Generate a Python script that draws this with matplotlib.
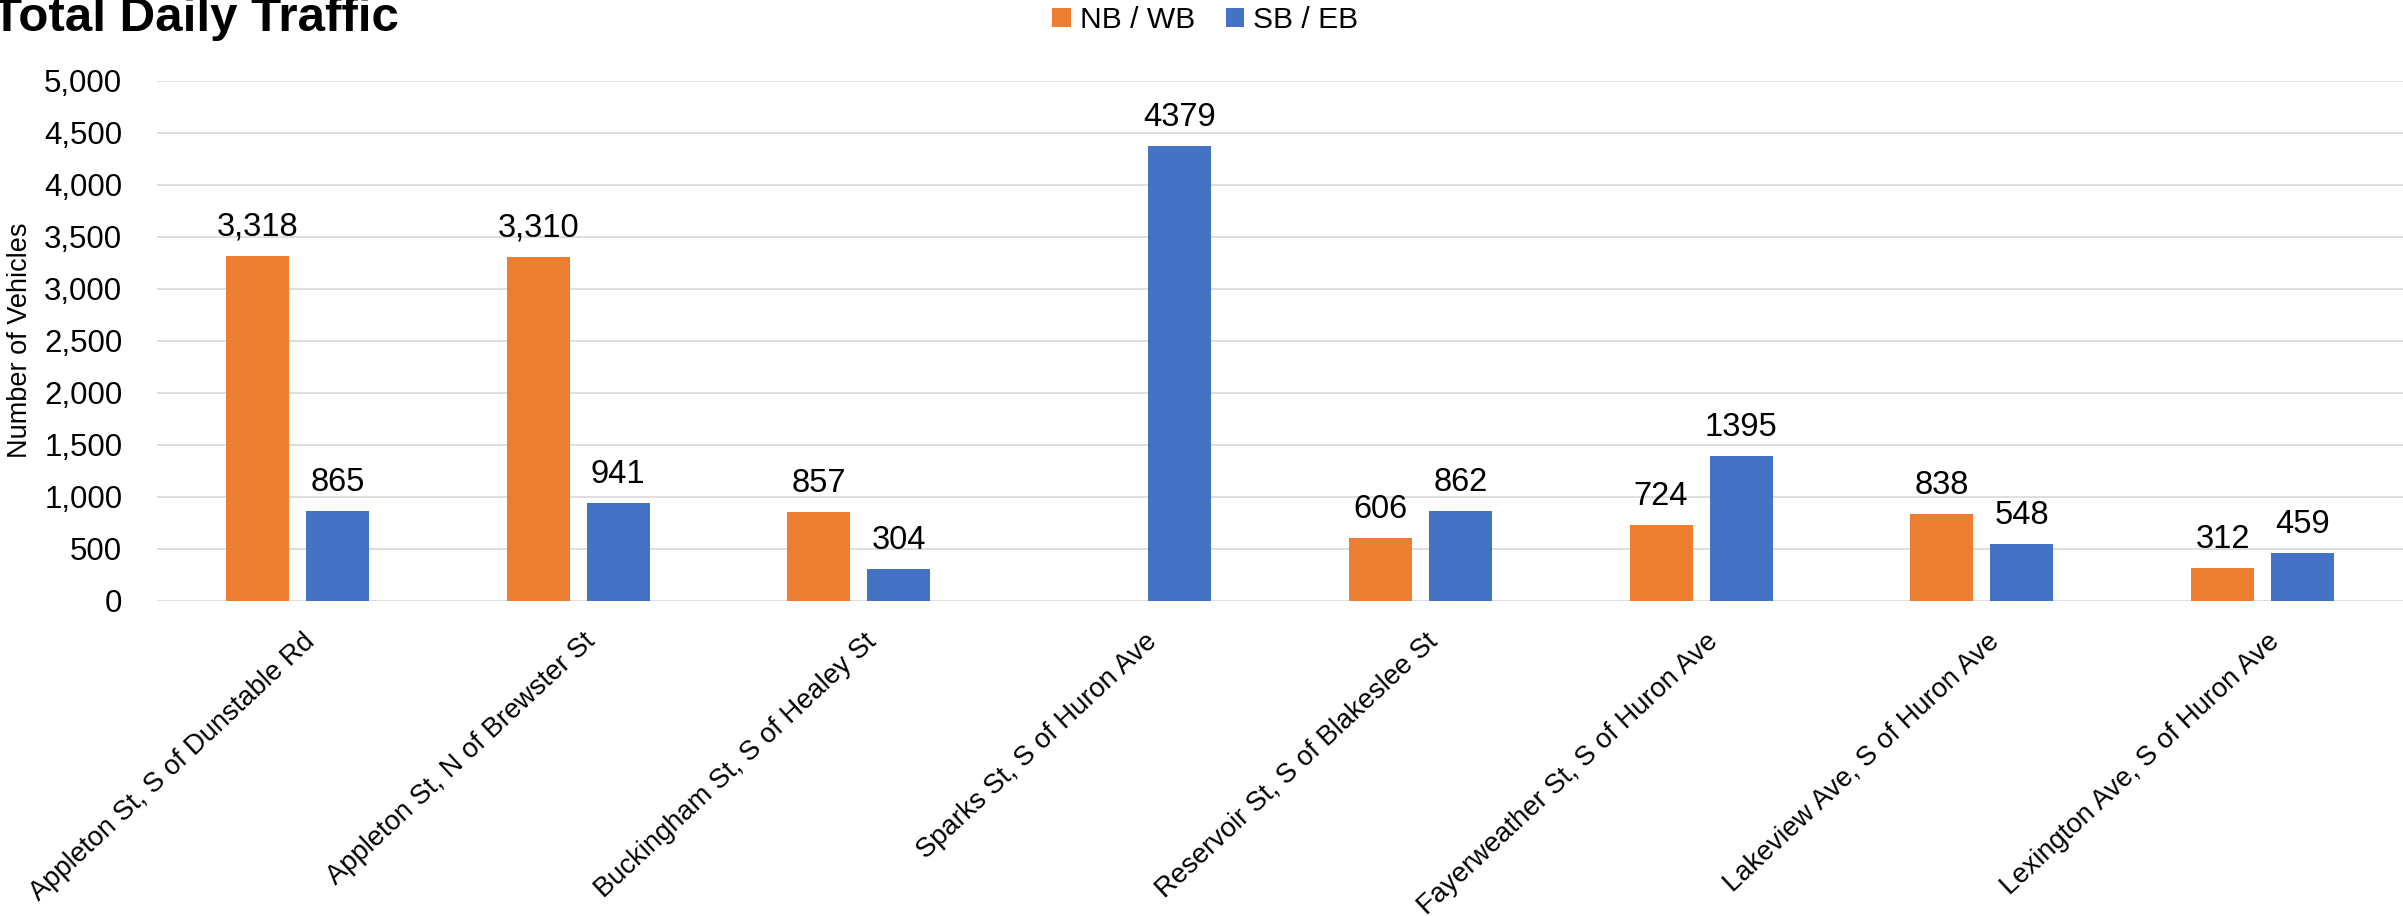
import numpy as np
import matplotlib
matplotlib.use('Agg')
import matplotlib.pyplot as plt
from matplotlib import font_manager
from matplotlib.transforms import ScaledTranslation

# ---------------- data ----------------
categories = [
    "Appleton St, S of Dunstable Rd",
    "Appleton St, N of Brewster St",
    "Buckingham St, S of Healey St",
    "Sparks St, S of Huron Ave",
    "Reservoir St, S of Blakeslee St",
    "Fayerweather St, S of Huron Ave",
    "Lakeview Ave, S of Huron Ave",
    "Lexington Ave, S of Huron Ave",
]
nb_wb = [3318, 3310, 857, np.nan, 606, 724, 838, 312]
sb_eb = [865, 941, 304, 4379, 862, 1395, 548, 459]
series_names = ["NB / WB", "SB / EB"]
y_ticks = [0, 500, 1000, 1500, 2000, 2500, 3000, 3500, 4000, 4500, 5000]
title = "Total Daily Traffic"
y_label = "Number of Vehicles"

# ---------------- style ----------------
W, H, DPI = 2403, 916, 100
ORANGE = "#ED7D31"
BLUE = "#4472C4"
GRID = "#d9d9d9"

avail = {f.name for f in font_manager.fontManager.ttflist}
base_font = "Liberation Sans" if "Liberation Sans" in avail else "DejaVu Sans"
plt.rcParams["font.family"] = [base_font, "DejaVu Sans"]

fig = plt.figure(figsize=(W / DPI, H / DPI), dpi=DPI)
left_px, right_px, top_px, bot_px = 157, 2403, 81, 600.7
ax = fig.add_axes([left_px / W, 1 - bot_px / H, (right_px - left_px) / W, (bot_px - top_px) / H])

x = np.arange(len(categories))
bw = 0.224
off = 0.1425
b1 = ax.bar(x - off, nb_wb, bw, color=ORANGE, zorder=3)
b2 = ax.bar(x + off, sb_eb, bw, color=BLUE, zorder=3)

ax.set_xlim(-0.5, len(categories) - 0.5)
ax.set_ylim(0, 5000)
ax.set_yticks(y_ticks)
ax.set_yticklabels([f"{v:,}" for v in y_ticks])
ax.yaxis.grid(True, color=GRID, linewidth=1.2)
ax.set_axisbelow(True)
for s in ax.spines.values():
    s.set_visible(False)
ax.tick_params(axis="y", length=0, pad=25, labelsize=22.5)
ax.tick_params(axis="x", length=0, pad=30.5, labelsize=19.7)

ax.set_xticks(x)
ax.set_xticklabels(categories)
for lab in ax.get_xticklabels():
    lab.set_rotation(43)
    lab.set_ha("right")
    lab.set_va("baseline")
    lab.set_rotation_mode("anchor")
    lab.set_transform(lab.get_transform() + ScaledTranslation(18.4 / DPI, 0, fig.dpi_scale_trans))

# data labels
for xi, v in zip(x - off, nb_wb):
    if not np.isnan(v):
        ax.annotate(f"{int(v):,}", (xi, v), xytext=(0, 14.4), textcoords="offset points",
                    ha="center", va="baseline", fontsize=23.5)
for xi, v in zip(x + off, sb_eb):
    if not np.isnan(v):
        ax.annotate(f"{int(v)}", (xi, v), xytext=(0, 14.4), textcoords="offset points",
                    ha="center", va="baseline", fontsize=23.5)

# legend
ax.legend([b1, b2], series_names, loc="center", bbox_to_anchor=(1205.5 / W, 1 - 20 / H),
          bbox_transform=fig.transFigure, ncol=2, frameon=False, fontsize=21.6,
          handlelength=0.63, handleheight=0.63, handletextpad=0.3, columnspacing=1.0,
          borderpad=0, borderaxespad=0)

# y label
fig.text(20 / W, 1 - 340 / H, y_label, rotation=90, ha="center", va="center", fontsize=19.5)

# title (partially cut off at top-left, as in the reference)
fig.text(-8 / W, 1 - 31 / H, title, fontsize=35.5, fontweight="bold",
         ha="left", va="baseline")

fig.savefig("out.png", dpi=DPI)
